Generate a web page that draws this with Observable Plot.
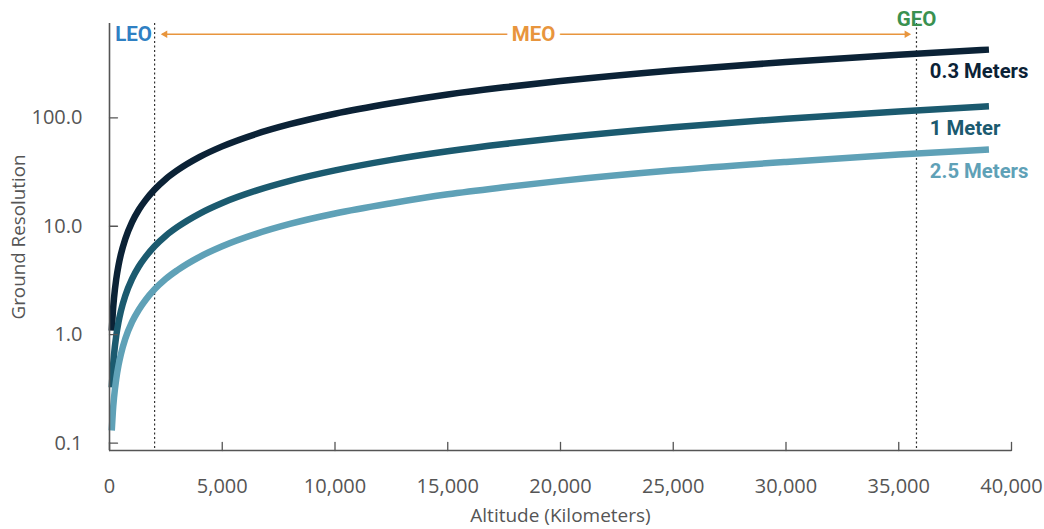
<!DOCTYPE html>
<html>
<head>
<meta charset="utf-8">
<script src="https://cdn.jsdelivr.net/npm/d3@7"></script>
<script src="https://cdn.jsdelivr.net/npm/@observablehq/plot@0.6"></script>
<style>
  html, body { margin: 0; padding: 0; background: #fff; }
  #chart svg { display: block; overflow: visible; }
</style>
</head>
<body>
<div id="chart"></div>
<script>
// Altitude samples (km)
const altitudes = [100, 150, 200, 300, 400, 500, 700, 1000, 1300, 1600, 2000, 2500, 3000, 4000, 5000, 6500, 8000, 10000, 12500, 15000, 17500, 20000, 25000, 30000, 35000, 39000];
// Ground resolution values for each sensor resolution
const res03 = [1.09, 1.64, 2.18, 3.27, 4.36, 5.45, 7.63, 10.9, 14.2, 17.4, 21.8, 27.3, 32.7, 43.6, 54.5, 70.9, 87.2, 109, 136, 164, 191, 218, 273, 327, 382, 425];
const res1 = [0.327, 0.49, 0.654, 0.98, 1.31, 1.64, 2.29, 3.27, 4.26, 5.22, 6.54, 8.19, 9.81, 13.1, 16.4, 21.3, 26.2, 32.7, 40.9, 49.1, 57.3, 65.4, 81.8, 98.1, 114.5, 127.5];
const res25 = [0.131, 0.197, 0.262, 0.392, 0.523, 0.654, 0.916, 1.31, 1.70, 2.09, 2.62, 3.28, 3.92, 5.23, 6.54, 8.51, 10.5, 13.1, 16.3, 19.7, 22.9, 26.2, 32.8, 39.2, 45.8, 51.0];
const seriesNames = ["0.3 Meters", "1 Meter", "2.5 Meters"];
const seriesColors = ["#0b2236", "#1b5a6f", "#5fa1b7"];
// Orbit boundaries (km)
const orbitBounds = [2000, 35786];
const orbitNames = ["LEO", "MEO", "GEO"];
const orbitColors = ["#2f80c3", "#e8953d", "#3a9150"];
// Axis ticks
const xTicks = [0, 5000, 10000, 15000, 20000, 25000, 30000, 35000, 40000];
const yTicks = [0.1, 1, 10, 100];

const seriesValues = [res03, res1, res25];
const rows = [];
seriesValues.forEach((vals, s) => vals.forEach((v, i) => rows.push({series: seriesNames[s], alt: altitudes[i], res: v})));
const endRows = seriesValues.map((vals, s) => ({series: seriesNames[s], res: vals[vals.length - 1]}));

const tickShapeV = {draw(ctx, l) { ctx.moveTo(0, 0); ctx.lineTo(0, -l); }};
const axisColor = "#555";
const yMin = 0.0856, yMax = 740;
const arrowY = 590;

const chart = Plot.plot({
  width: 1044,
  height: 529,
  marginLeft: 109,
  marginRight: 33,
  marginTop: 23,
  marginBottom: 79,
  style: {fontFamily: "'Open Sans', sans-serif", color: axisColor, background: "#fff"},
  x: {domain: [0, 40000]},
  y: {type: "log", domain: [yMin, yMax]},
  color: {domain: seriesNames, range: seriesColors},
  marks: [
    // dotted orbit boundaries
    Plot.ruleX(orbitBounds, {stroke: "#333", strokeWidth: 1.2, strokeDasharray: "2,2.5"}),
    // series lines
    Plot.line(rows, {x: "alt", y: "res", z: "series", stroke: "series", strokeWidth: 6.5, curve: "monotone-x", strokeLinecap: "butt"}),
    // axis lines
    Plot.ruleX([0], {stroke: axisColor, strokeWidth: 1.6}),
    Plot.ruleY([yMin], {stroke: axisColor, strokeWidth: 1.6}),
    // inward ticks
    Plot.vector(xTicks, {x: d => d, frameAnchor: "bottom", length: 8, anchor: "start", shape: tickShapeV, stroke: axisColor, strokeWidth: 1.3}),
    Plot.vector(yTicks, {y: d => d, frameAnchor: "left", length: 8, rotate: 90, anchor: "start", shape: tickShapeV, stroke: axisColor, strokeWidth: 1.3}),
    Plot.axisX({ticks: xTicks, tickSize: 0, tickPadding: 28, tickFormat: d3.format(","), fontSize: 20, fill: axisColor, label: null}),
    Plot.axisY({ticks: yTicks, tickSize: 0, tickPadding: 27, tickFormat: d3.format(".1f"), fontSize: 20, fill: axisColor, label: null}),
    // axis titles
    Plot.text(["Ground Resolution"], {text: d => d, frameAnchor: "left", textAnchor: "middle", lineAnchor: "middle", rotate: -90, dx: -91, fontSize: 18.8, fill: axisColor}),
    Plot.text(["Altitude (Kilometers)"], {text: d => d, frameAnchor: "bottom", textAnchor: "middle", lineAnchor: "middle", dy: 65, fontSize: 19, fill: axisColor}),
    // MEO arrow
    Plot.ruleY([arrowY], {x1: orbitBounds[0], x2: orbitBounds[1], insetLeft: 8, insetRight: 8, stroke: orbitColors[1], strokeWidth: 1.5}),
    Plot.dot([orbitBounds[0]], {x: d => d, y: arrowY, symbol: "triangle2", r: 3.6, rotate: -90, dx: 10.5, fill: orbitColors[1], stroke: null}),
    Plot.dot([orbitBounds[1]], {x: d => d, y: arrowY, symbol: "triangle2", r: 3.6, rotate: 90, dx: -9.7, fill: orbitColors[1], stroke: null}),
    // orbit labels
    Plot.text([orbitNames[0]], {text: d => d, x: 0, y: arrowY, dx: 24, fill: orbitColors[0], fontSize: 20.5, fontWeight: 700, fontFamily: "Roboto"}),
    Plot.text([orbitNames[1]], {text: d => d, x: (orbitBounds[0] + orbitBounds[1]) / 2, y: arrowY, dx: -2, fill: orbitColors[1], fontSize: 20.5, fontWeight: 700, fontFamily: "Roboto", stroke: "#fff", strokeWidth: 11, paintOrder: "stroke"}),
    Plot.text([orbitNames[2]], {text: d => d, x: orbitBounds[1], y: arrowY, dy: -15, fill: orbitColors[2], fontSize: 20.5, fontWeight: 700, fontFamily: "Roboto"}),
    // series labels
    Plot.text(endRows, {x: 36380, y: "res", text: "series", fill: "series", textAnchor: "start", dy: 22, fontSize: 20.3, fontWeight: 700, fontFamily: "Roboto"})
  ]
});
document.getElementById("chart").appendChild(chart);
</script>
</body>
</html>
